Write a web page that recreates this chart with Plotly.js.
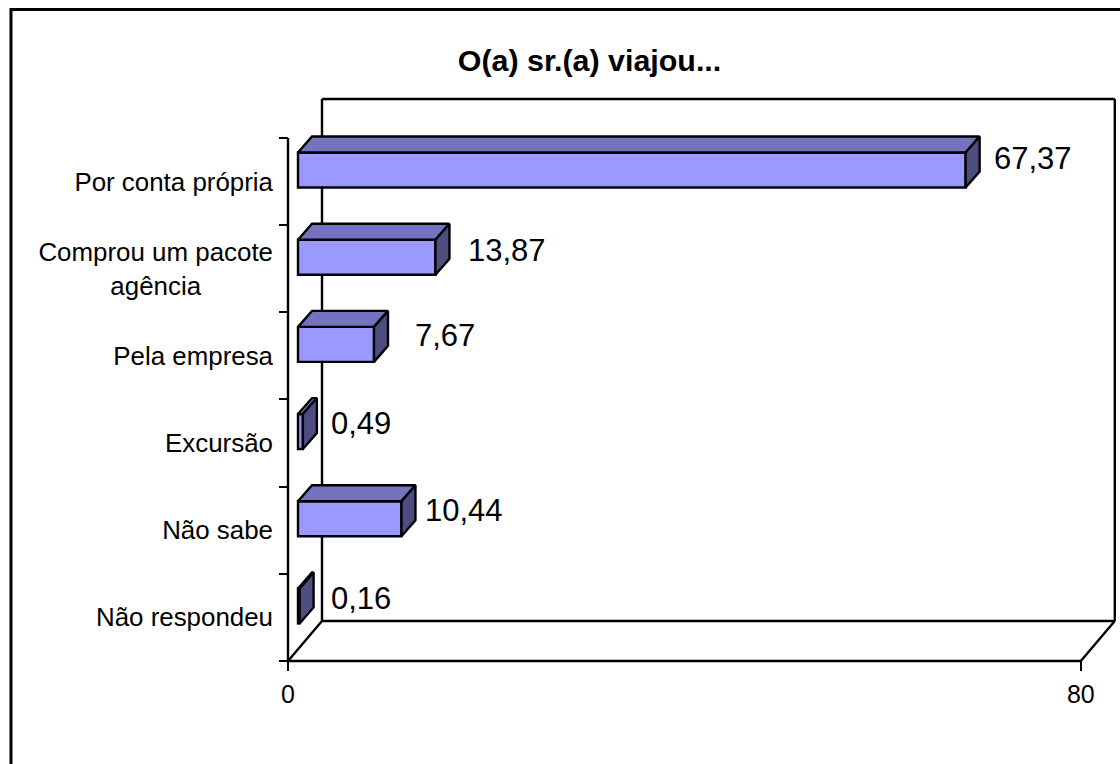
<!DOCTYPE html>
<html><head><meta charset="utf-8">
<script src="https://cdn.plot.ly/plotly-3.0.1.min.js"></script>
<style>html,body{margin:0;padding:0;background:#fff;overflow:hidden}#c{width:1120px;height:764px}</style>
</head><body><div id="c"></div>
<script>
const categories = ["Não respondeu","Não sabe","Excursão","Pela empresa","Comprou um pacote<br>agência","Por conta própria"];
const values = [0.16,10.44,0.49,7.67,13.87,67.37];
const labelXShift = [30.5,22.5,27.5,39.5,31.5,27.5];
const labelYShift = [19,20,20,20.5,18,23];
const tickPad = ["","","","","\u00a0\u00a0\u00a0\u00a0\u00a0\u00a0\u00a0\u00a0\u00a0\u00a0",""];
const xTicks = [0,80];

const PXX = 9.91, PXY = 87.17;
const L = 288, B = 661, PR = 1118, PT = 96, GUT = 10;
const floorOff = 10/PXX, barDx = 14/PXX, barDy = 16/PXY;
const wallDx = 34/PXX, wallDy = 40/PXY;
const barW = 35/PXY, barCenter = 11.5/PXY;
const yBottom = -0.5;
const xMax = xTicks[1], wallTop = yBottom + (B-99)/PXY;
const black = "#000", front = "#9999FF", top_ = "#7373BF", side = "#4D4D80";
const font = "Liberation Sans, Arial, sans-serif";
const LW = 2.4;

const idx = values.map((_,i)=>i);
const traces = [];
// front faces
traces.push({type:"bar",orientation:"h",y:idx,x:values,base:floorOff,width:barW,offset:barCenter-barW/2,
  marker:{color:front,line:{color:black,width:LW}},hoverinfo:"skip",showlegend:false});
// top and side faces
values.forEach((v,i)=>{
  const x0=floorOff,x1=floorOff+v,yb=i+barCenter-barW/2,yt=i+barCenter+barW/2;
  traces.push({type:"scatter",mode:"lines",x:[x0,x0+barDx,x1+barDx,x1,x0],y:[yt,yt+barDy,yt+barDy,yt,yt],
    fill:"toself",fillcolor:top_,line:{color:black,width:LW},hoverinfo:"skip",showlegend:false});
  traces.push({type:"scatter",mode:"lines",x:[x1,x1+barDx,x1+barDx,x1,x1],y:[yt,yt+barDy,yb+barDy,yb,yt],
    fill:"toself",fillcolor:side,line:{color:black,width:LW},hoverinfo:"skip",showlegend:false});
});
// front axis lines + floor edges
traces.push({type:"scatter",mode:"lines",
  x:[0,0,null,0,xMax,xMax+wallDx,null,0,wallDx],
  y:[categories.length-0.5,yBottom,null,yBottom,yBottom,yBottom+wallDy,null,yBottom,yBottom+wallDy],
  line:{color:black,width:LW},hoverinfo:"skip",showlegend:false});

const wallShapes = [
 {type:"line",layer:"below",xref:"x",yref:"y",x0:wallDx,x1:wallDx,y0:yBottom+wallDy,y1:wallTop,line:{color:black,width:LW}},
 {type:"line",layer:"below",xref:"x",yref:"y",x0:wallDx,x1:xMax+wallDx,y0:wallTop,y1:wallTop,line:{color:black,width:LW}},
 {type:"line",layer:"below",xref:"x",yref:"y",x0:xMax+wallDx,x1:xMax+wallDx,y0:yBottom+wallDy,y1:wallTop,line:{color:black,width:LW}},
 {type:"line",layer:"below",xref:"x",yref:"y",x0:wallDx,x1:xMax+wallDx,y0:yBottom+wallDy,y1:yBottom+wallDy,line:{color:black,width:LW}}
];
const L0 = L-GUT, B0 = B+GUT;
const pw = PR-L0, ph = B0-PT;
const frame = {type:"path",xref:"paper",yref:"paper",layer:"above",
  path:`M ${(11-L0)/pw} ${-(764+20-B0)/ph} L ${(11-L0)/pw} ${(B0-9.5)/ph} L ${(1140-L0)/pw} ${(B0-9.5)/ph}`,
  line:{color:black,width:3}};

const annotations = values.map((v,i)=>({
  x:floorOff+v,y:i,xref:"x",yref:"y",text:v.toFixed(2).replace(".",","),showarrow:false,
  xanchor:"left",yanchor:"middle",xshift:labelXShift[i],yshift:labelYShift[i],borderpad:0,
  font:{family:font,size:31,color:"#000"}
}));

Plotly.newPlot("c",traces,{
  width:1120,height:764,paper_bgcolor:"#fff",plot_bgcolor:"rgba(0,0,0,0)",showlegend:false,
  margin:{l:L0,r:1120-PR,t:PT,b:764-B0,pad:0},
  title:{text:"O(a) sr.(a) viajou...",x:589.5/1120,y:1-60/764,xanchor:"center",yanchor:"middle",
    font:{family:font,size:30.4,color:"#000",weight:700}},
  xaxis:{range:[-GUT/PXX,(PR-L)/PXX],anchor:"free",position:GUT/ph,tickmode:"array",tickvals:xTicks,ticktext:xTicks.map(String),ticks:"outside",ticklen:9,tickwidth:2,tickcolor:black,ticklabelstandoff:2,
    showgrid:false,zeroline:false,showline:false,tickfont:{family:font,size:25,color:"#000"}},
  yaxis:{range:[yBottom-GUT/PXY,yBottom+(B-PT)/PXY],anchor:"free",position:GUT/pw,tickmode:"array",tickvals:idx,ticktext:categories.map((c,i)=>c+tickPad[i]),ticks:"",ticklabelstandoff:15,
    minor:{tickmode:"array",tickvals:idx.concat([idx.length]).map(i=>i-0.5),ticks:"outside",ticklen:9,tickwidth:2,tickcolor:black,showgrid:false},
    showgrid:false,zeroline:false,showline:false,tickfont:{family:font,size:25.9,color:"#000"}},
  shapes:wallShapes.concat([frame]),
  annotations:annotations
},{displayModeBar:false,staticPlot:true});
</script></body></html>
